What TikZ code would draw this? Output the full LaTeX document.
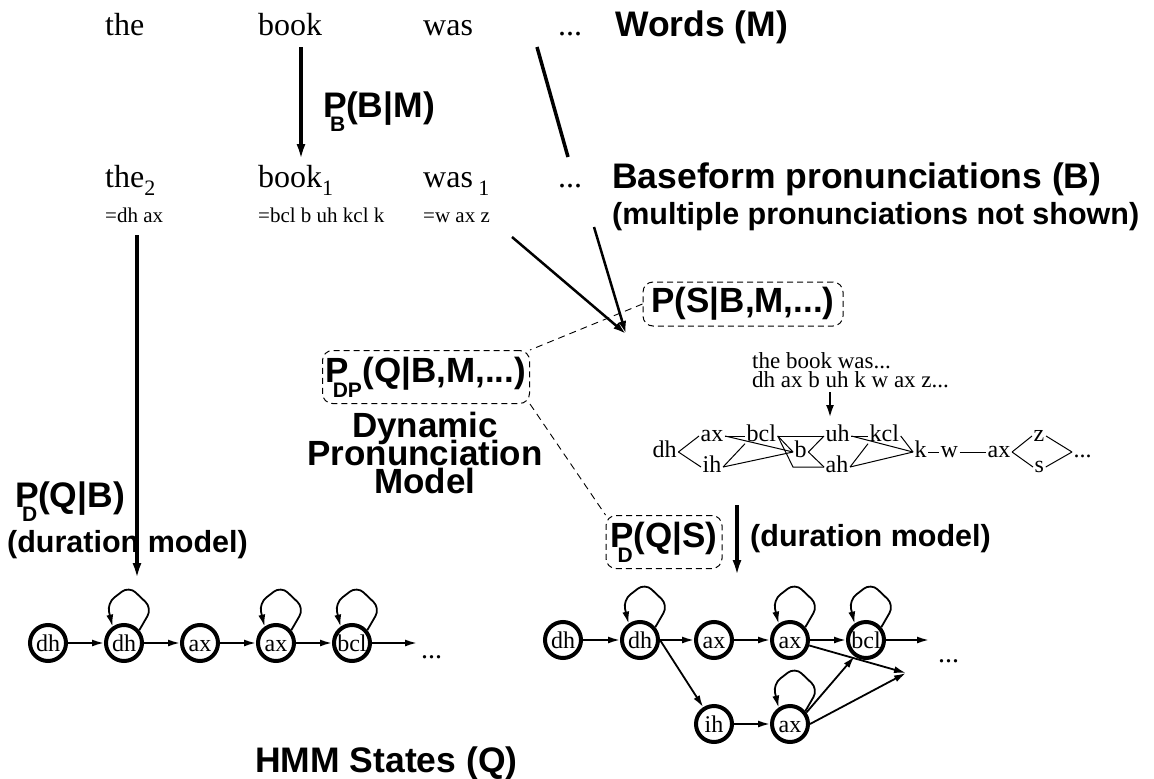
\documentclass[tikz,border=0pt]{standalone}
\usepackage{fontspec}
\setmainfont{Liberation Serif}
\newfontfamily\hv{Liberation Sans}
\usetikzlibrary{arrows.meta,calc}
% P with a subscript tucked under it
\newcommand\Psb[1]{P\kern-.47em\raisebox{-.42em}{\fontsize{21}{21}\selectfont #1}\kern.02em}
% lowered index after a word
\newcommand\wsub[1]{\raisebox{-.28em}{\fontsize{22}{22}\selectfont #1}}
% self transition drawn above a state
\newcommand\stloop[1]{\draw[selfloop] (#1.40) -- ++(12.7,-22) -- ++(-23,-22) -- ++(-22,17) -- (#1.125);}
\begin{document}
\begin{tikzpicture}[x=1pt,y=-1pt,
  word/.style={anchor=base west,inner sep=0pt,font=\fontsize{32}{34}\selectfont},
  lab/.style={anchor=base west,inner sep=0pt,font=\hv\bfseries\fontsize{35.5}{38}\selectfont},
  clab/.style={anchor=base,inner sep=0pt,font=\hv\bfseries\fontsize{35}{38}\selectfont},
  slab/.style={anchor=base west,inner sep=0pt,font=\hv\bfseries\fontsize{30.5}{34}\selectfont},
  phon/.style={anchor=base west,inner sep=0pt,font=\fontsize{21}{22}\selectfont},
  lat/.style={anchor=base west,inner sep=1.5pt,text height=11pt,text depth=1pt,font=\fontsize{24}{24}\selectfont},
  bigarrow/.style={line width=3.5pt,-{Latex[length=16pt,width=9pt]}},
  midarrow/.style={line width=2.5pt,-{Latex[length=13pt,width=8pt]}},
  smallarrow/.style={line width=1.8pt,-{Latex[length=12pt,width=7pt]}},
  selfloop/.style={smallarrow,rounded corners=9pt},
  state/.style={circle,draw,line width=4pt,minimum size=36pt,inner sep=0pt,text height=17pt,text depth=0pt,font=\fontsize{24}{24}\selectfont},
  dbox/.style={draw,line width=1pt,dash pattern=on 6pt off 4pt,rounded corners=10pt,inner sep=0pt,font=\hv\bfseries\fontsize{35}{38}\selectfont},
  dlink/.style={line width=0.9pt,dash pattern=on 7pt off 5pt},
  latedge/.style={line width=1pt}
]
\useasboundingbox (0,0) rectangle (1154,779);

% ---- words ----
\node[word] (w1) at (105,35) {the};
\node[word] (w2) at (258,35) {book};
\node[word] (w3) at (423,35) {was};
\node[word] (w4) at (558,35) {...};
\node[lab]  (wl) at (615,36) {Words (M)};

% ---- baseforms ----
\node[word] (b1) at (105,187) {the\wsub{2}};
\node[word] (b2) at (258,187) {book\wsub{1}};
\node[word] (b3) at (423,187) {was\,\wsub{1}};
\node[word] (b4) at (558,187) {...};
\node[lab]  (bl) at (612,188) {Baseform pronunciations (B)};
\node[slab] (bl2) at (612,224) {(multiple pronunciations not shown)};
\node[phon] (p1) at (105,222) {=dh ax};
\node[phon] (p2) at (258,222) {=bcl b uh kcl k};
\node[phon] (p3) at (423,222) {=w ax z};

\node[lab] (pbm) at (323,117) {\Psb{B}(B|M)};

\coordinate (bkA) at (301,47);
\coordinate (bkB) at (301,160);
\draw[bigarrow] (bkA) -- (bkB);
\coordinate (wsA) at (537,47);
\coordinate (wsB) at (568,157);
\draw[line width=3.5pt] (wsA) -- (wsB);

% ---- into the pronunciation model ----
\coordinate (sA) at (512,237);
\coordinate (sB) at (594,227);
\coordinate (sT) at (626,334);
\draw[midarrow] (sA) -- (sT);
\draw[midarrow] (sB) -- (sT);

\node[dbox,minimum width=200pt,minimum height=44pt] (psb) at (743,304) {P(S|B,M,...)};
\node[dbox,minimum width=207pt,minimum height=53pt] (pdp) at (426,377) {\Psb{DP}(Q|B,M,...)};
\node[dbox,minimum width=116pt,minimum height=53pt] (pdq) at (664,542) {\Psb{D}(Q|S)};
\draw[dlink] (psb.west) -- (pdp.north east);
\draw[dlink] (pdp.south east) -- (pdq.north west);

\node[clab] (dyn1) at (425,437) {Dynamic};
\node[clab] (dyn2) at (425,465) {Pronunciation};
\node[clab] (dyn3) at (425,493) {Model};

% ---- left: duration model on baseforms ----
\node[lab]  (pdb) at (15,507) {\Psb{D}(Q|B)};
\node[slab] (dm1) at (7,552) {(duration model)};
\coordinate (qA) at (137,235);
\coordinate (qB) at (137,579);
\draw[bigarrow] (qA) -- (qB);

\node[state] (l1) at (48,643) {dh};
\node[state] (l2) at (124,643) {dh};
\node[state] (l3) at (200,643) {ax};
\node[state] (l4) at (276,643) {ax};
\node[state] (l5) at (352,643) {bcl};
\coordinate (lend) at (417,643);
\node[anchor=base west,inner sep=0pt,font=\fontsize{28}{28}\selectfont] (ldots) at (421,658) {...};
\draw[smallarrow] (l1) -- (l2);
\draw[smallarrow] (l2) -- (l3);
\draw[smallarrow] (l3) -- (l4);
\draw[smallarrow] (l4) -- (l5);
\draw[smallarrow] (l5) -- (lend);
\stloop{l2}
\stloop{l4}
\stloop{l5}

\node[lab] (hmm) at (255,772) {HMM States (Q)};

% ---- pronunciation lattice ----
\node[anchor=base west,inner sep=0pt,font=\fontsize{23}{23}\selectfont] (ex1) at (752,368) {the book was...};
\node[anchor=base west,inner sep=0pt,font=\fontsize{23}{23}\selectfont] (ex2) at (752,387) {dh ax b uh k w ax z...};
\coordinate (exA) at (830,392);
\coordinate (exB) at (830,418);
\draw[midarrow] (exA) -- (exB);

\node[lat] (ndh)  at (651,457) {dh};
\node[lat] (nax)  at (699,441) {ax};
\node[lat] (nih)  at (701,472) {ih};
\node[lat] (nbcl) at (745,441) {bcl};
\node[lat] (nb)   at (793,457) {b};
\node[lat] (nuh)  at (824,441) {uh};
\node[lat] (nah)  at (824,472) {ah};
\node[lat] (nkcl) at (868,441) {kcl};
\node[lat] (nk)   at (913,457) {k};
\node[lat] (nw)   at (939,457) {w};
\node[lat] (nax2) at (986,457) {ax};
\node[lat] (nz)   at (1032,441) {z};
\node[lat] (ns)   at (1033,472) {s};
\node[lat] (ndot) at (1072,457) {...};

\draw[latedge] (ndh.east) -- (nax.west);
\draw[latedge] (ndh.east) -- (nih.west);
\draw[latedge] (nax.east) -- (nbcl.west);
\draw[latedge] (nax.east) -- (nb.west);
\draw[latedge] (nih.east) -- (nbcl.south west);
\draw[latedge] (nih.east) -- (nb.west);
\draw[latedge] (nbcl.east) -- (nuh.west);
\draw[latedge] (nbcl.east) -- (nb.west);
\draw[latedge] (nbcl.east) -- (nb.west |- nah.west) -- (nah.west);
\draw[latedge] (nb.east) -- (nuh.west);
\draw[latedge] (nb.east) -- (nah.west);
\draw[latedge] (nuh.east) -- (nkcl.west);
\draw[latedge] (nuh.east) -- (nk.west);
\draw[latedge] (nah.east) -- (nkcl.south west);
\draw[latedge] (nah.east) -- (nk.west);
\draw[latedge] (nkcl.east) -- (nk.west);
\draw[latedge] (nk.east) -- (nw.west);
\draw[latedge] (nw.east) -- (nax2.west);
\draw[latedge] (nax2.east) -- (nz.west);
\draw[latedge] (nax2.east) -- (ns.west);
\draw[latedge] (nz.east) -- (ndot.west);
\draw[latedge] (ns.east) -- (ndot.west);

% ---- right: duration model on surface forms ----
\coordinate (dA) at (737,505);
\coordinate (dB) at (737,576);
\draw[bigarrow] (dA) -- (dB);
\node[slab] (dm2) at (750,546) {(duration model)};

\node[state] (r1) at (563,640) {dh};
\node[state] (r2) at (640,640) {dh};
\node[state] (r3) at (714,640) {ax};
\node[state] (r4) at (790,640) {ax};
\node[state] (r5) at (866,640) {bcl};
\node[state] (r6) at (714,724) {ih};
\node[state] (r7) at (790,724) {ax};
\coordinate (rend) at (929,640);
\coordinate (rmerge) at (906,673);
\node[anchor=base west,inner sep=0pt,font=\fontsize{28}{28}\selectfont] (rdots) at (938,662) {...};
\draw[smallarrow] (r1) -- (r2);
\draw[smallarrow] (r2) -- (r3);
\draw[smallarrow] (r2.east) -- (r6);
\draw[smallarrow] (r3) -- (r4);
\draw[smallarrow] (r4) -- (r5);
\draw[smallarrow] (r5) -- (rend);
\draw[smallarrow] (r4) -- (rmerge);
\draw[smallarrow] (r6) -- (r7);
\draw[smallarrow] (r7.35) -- (r5.235);
\draw[smallarrow] (r7.east) -- (rmerge);
\stloop{r2}
\stloop{r4}
\stloop{r5}
\stloop{r7}
\end{tikzpicture}
\end{document}
